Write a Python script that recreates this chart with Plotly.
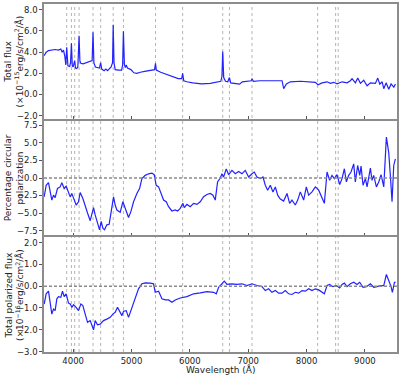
import plotly.graph_objects as go
from plotly.subplots import make_subplots

# spectral lines marked with dotted verticals (Angstrom)
line_wl = [3889, 3970, 4026, 4101, 4340, 4471, 4686, 4861, 5411, 5876,
           6563, 6678, 7065, 8190, 8498, 8542]

# total flux (x1e-15 erg/s/cm2/A)
flux_wl = [3503, 3537, 3577, 3634, 3691, 3748, 3788, 3811, 3834, 3857, 3874,
           3889, 3910, 3940, 3955, 3970, 3985, 4000, 4015, 4026, 4040, 4060,
           4080, 4101, 4115, 4130, 4170, 4200, 4250, 4300, 4325, 4340, 4355,
           4380, 4420, 4450, 4471, 4490, 4530, 4560, 4590, 4620, 4650, 4675,
           4686, 4700, 4720, 4780, 4830, 4848, 4861, 4878, 4895, 4910, 4930,
           4990, 5040, 5093, 5150, 5250, 5350, 5395, 5411, 5425, 5500, 5600,
           5700, 5800, 5860, 5876, 5895, 5950, 6050, 6200, 6350, 6450, 6530,
           6550, 6563, 6580, 6610, 6650, 6678, 6700, 6800, 6850, 6900, 7000,
           7050, 7065, 7090, 7200, 7300, 7400, 7500, 7580, 7608, 7654, 7723,
           7894, 8066, 8151, 8197, 8266, 8351, 8409, 8466, 8523, 8609, 8694,
           8751, 8780, 8837, 8877, 8923, 8980, 9037, 9094, 9180, 9220, 9255,
           9295, 9323, 9363, 9409, 9449, 9495, 9523]
flux = [3.67, 4.0, 4.15, 4.2, 4.25, 4.2, 4.3, 4.0, 4.2, 3.6, 2.8,
        4.45, 2.7, 2.65, 3.0, 4.85, 2.7, 2.6, 2.9, 3.2, 2.5, 2.45,
        2.6, 5.56, 3.2, 2.95, 2.9, 2.95, 3.0, 3.1, 3.2, 5.88, 3.0,
        2.6, 2.5, 2.5, 3.0, 2.4, 2.25, 2.4, 2.25, 2.4, 2.6, 3.0,
        6.6, 3.0, 2.35, 2.3, 2.3, 2.8, 5.97, 2.8, 2.55, 2.8, 2.5,
        2.35, 2.05, 2.0, 2.1, 2.2, 2.28, 2.35, 2.94, 2.3, 2.1, 1.9,
        1.7, 1.5, 1.5, 2.0, 1.3, 1.2, 1.1, 1.0, 1.05, 1.15, 1.25,
        1.7, 4.05, 1.6, 1.25, 1.2, 1.6, 1.1, 1.05, 0.98, 1.2, 1.25,
        1.3, 1.46, 1.25, 1.3, 1.32, 1.3, 1.3, 1.3, 0.55, 1.0, 1.2,
        1.25, 1.2, 1.15, 0.92, 1.1, 1.2, 1.05, 1.15, 1.0, 1.2, 1.1,
        1.3, 1.5, 1.1, 1.55, 1.05, 1.35, 0.83, 1.1, 1.05, 1.55, 0.98,
        1.2, 0.55, 1.1, 0.5, 1.0, 0.7, 1.0]

# percentage circular polarization
pol_wl = [3503, 3537, 3577, 3606, 3634, 3663, 3691, 3731, 3777, 3806, 3846,
          3880, 3920, 3949, 3977, 4006, 4051, 4091, 4120, 4166, 4206, 4246,
          4292, 4320, 4349, 4377, 4417, 4452, 4480, 4509, 4537, 4577, 4617,
          4646, 4692, 4720, 4749, 4806, 4852, 4892, 4949, 4989, 5035, 5092,
          5138, 5178, 5235, 5292, 5349, 5389, 5423, 5464, 5504, 5549, 5595,
          5635, 5692, 5749, 5789, 5835, 5881, 5904, 5949, 6007, 6064, 6121,
          6178, 6235, 6293, 6350, 6395, 6435, 6475, 6521, 6550, 6578, 6624,
          6664, 6721, 6778, 6836, 6893, 6950, 7007, 7064, 7104, 7150, 7207,
          7253, 7293, 7333, 7379, 7424, 7465, 7505, 7550, 7607, 7665, 7710,
          7750, 7807, 7848, 7893, 7950, 7996, 8036, 8093, 8151, 8208, 8248,
          8305, 8351, 8396, 8436, 8476, 8522, 8568, 8608, 8648, 8682, 8722,
          8762, 8808, 8836, 8876, 8911, 8934, 8968, 9008, 9037, 9094, 9122,
          9151, 9197, 9237, 9277, 9323, 9368, 9408, 9436, 9465, 9494, 9523]
pol = [-2.68, -1.04, -0.66, -2.2, -3.15, -2.45, -2.8, -1.5, -1.27, -0.66, -1.5,
       -1.18, -2.0, -2.7, -2.2, -2.9, -3.86, -3.39, -2.07, -2.92, -4.1, -5.0,
       -6.1, -5.0, -4.24, -5.27, -6.45, -7.4, -6.21, -7.16, -7.4, -6.69, -6.6,
       -5.27, -2.7, -3.86, -4.57, -4.9, -3.39, -4.33, -5.65, -4.8, -3.39, -2.2,
       -1.51, -0.09, 0.38, 0.6, 0.7, 0.47, -1.04, -1.27, -2.2, -3.15, -3.39,
       -4.1, -4.71, -4.57, -4.71, -4.33, -3.62, -4.24, -3.77, -4.1, -3.62, -3.77,
       -3.39, -2.68, -2.35, -2.2, -2.45, -3.15, -0.56, 0.0, 0.61, 0.14, 1.3,
       0.47, 1.08, 0.61, 0.94, 0.61, 1.08, 0.14, 0.61, 0.85, 0.14, -0.09,
       0.14, -1.04, -1.74, -1.04, -2.0, -1.27, -2.45, -3.01, -3.29, -2.21, -3.62,
       -3.15, -3.86, -3.15, -1.98, -3.15, -1.27, -2.45, -1.98, -1.27, -1.74, -2.45,
       -3.62, 0.85, -0.33, 0.38, -0.09, 0.47, -0.94, -0.09, 1.32, -0.56, 0.38,
       0.85, 2.02, -0.56, 1.79, 0.38, 1.7, -1.04, -0.09, -1.27, 1.41, -0.33,
       0.38, -1.27, -0.56, 0.47, -1.27, 5.84, 3.67, 0.38, -3.39, 1.79, 2.73]

# total polarized flux (x1e-16 erg/s/cm2/A)
pflux_wl = [3503, 3537, 3577, 3606, 3634, 3663, 3691, 3720, 3748, 3788, 3817,
            3846, 3880, 3920, 3949, 3977, 4006, 4051, 4091, 4132, 4166, 4206,
            4246, 4292, 4320, 4349, 4377, 4417, 4463, 4520, 4577, 4635, 4680,
            4720, 4760, 4795, 4835, 4863, 4909, 4949, 5006, 5063, 5120, 5178,
            5235, 5321, 5378, 5406, 5464, 5521, 5578, 5635, 5692, 5749, 5835,
            5949, 6064, 6178, 6293, 6407, 6453, 6493, 6550, 6590, 6636, 6721,
            6807, 6893, 6978, 7064, 7150, 7236, 7293, 7350, 7407, 7465, 7522,
            7579, 7636, 7693, 7750, 7807, 7865, 7922, 7979, 8036, 8093, 8151,
            8208, 8265, 8305, 8351, 8396, 8453, 8511, 8568, 8608, 8648, 8694,
            8751, 8808, 8865, 8911, 8968, 9025, 9094, 9151, 9208, 9265, 9323,
            9368, 9408, 9448, 9471, 9506, 9529]
pflux = [-0.82, -0.35, -0.23, -0.74, -1.28, -1.05, -1.12, -0.58, -0.48, -0.51, -0.23,
         -0.48, -0.35, -0.78, -0.82, -0.97, -0.85, -0.97, -1.12, -0.82, -0.89, -1.28,
         -1.66, -1.58, -1.82, -2.0, -1.58, -1.77, -1.74, -1.58, -1.51, -1.43, -1.28,
         -1.2, -0.97, -1.12, -1.35, -1.15, -1.12, -1.43, -0.97, -0.51, -0.12, 0.11,
         0.15, 0.14, 0.11, -0.28, -0.23, -0.58, -0.63, -0.63, -0.74, -0.63, -0.54,
         -0.48, -0.35, -0.31, -0.25, -0.28, -0.35, -0.05, 0.11, 0.23, 0.08, 0.11,
         0.08, 0.11, 0.03, 0.11, 0.03, -0.02, -0.2, -0.12, -0.28, -0.2, -0.32,
         -0.32, -0.2, -0.35, -0.38, -0.28, -0.32, -0.2, -0.23, -0.12, -0.2, -0.12,
         -0.17, -0.28, -0.35, 0.03, 0.08, -0.02, 0.03, -0.08, 0.08, 0.14, -0.02,
         0.11, 0.18, 0.08, 0.18, -0.05, -0.02, 0.11, -0.05, -0.02, 0.03, 0.03,
         0.54, 0.26, -0.02, -0.28, 0.18, 0.18]

x_ticks = [4000, 5000, 6000, 7000, 8000, 9000]
spine = "#8c8c8c"
txt = "#222222"
font = "DejaVu Sans"
blue = "#2222ff"

fig = make_subplots(rows=3, cols=1, shared_xaxes=True, vertical_spacing=0.005)

fig.add_trace(go.Scatter(x=flux_wl, y=flux, mode="lines",
                         line=dict(color=blue, width=1.2)), row=1, col=1)
fig.add_trace(go.Scatter(x=pol_wl, y=pol, mode="lines",
                         line=dict(color=blue, width=1.2)), row=2, col=1)
fig.add_trace(go.Scatter(x=pflux_wl, y=pflux, mode="lines",
                         line=dict(color=blue, width=1.2)), row=3, col=1)

# dotted line markers across all panels
for wl in line_wl:
    fig.add_shape(type="line", xref="x", yref="paper", x0=wl, x1=wl, y0=0, y1=1,
                  line=dict(color="#b4b4b4", width=1, dash="dot"), layer="below")

# dashed zero lines
for r in (2, 3):
    fig.add_hline(y=0, row=r, col=1,
                  line=dict(color="#8a8a8a", width=1.5, dash="3px,2px"))

for r in (1, 2, 3):
    fig.update_xaxes(range=[3500, 9550], tickvals=x_ticks, showgrid=False,
                     zeroline=False, showline=True, mirror=True,
                     linecolor=spine, linewidth=1.5, ticks="inside",
                     ticklen=3, tickcolor="#555555",
                     tickfont=dict(family=font, size=8.5, color=txt),
                     row=r, col=1)

fig.update_yaxes(range=[-2.3, 8.55], tickvals=[-2, 0, 2, 4, 6, 8],
                 tickformat=".1f", row=1, col=1)
fig.update_yaxes(range=[-8.2, 8.2], tickvals=[-7.5, -5, -2.5, 0, 2.5, 5, 7.5],
                 tickformat=".1f", row=2, col=1)
fig.update_yaxes(range=[-3.02, 2.25], tickvals=[-3, -2, -1, 0, 1, 2],
                 tickformat=".1f", row=3, col=1)
fig.update_yaxes(showgrid=False, zeroline=False, showline=True, mirror=True,
                 linecolor=spine, linewidth=1.5, ticks="outside", ticklen=3,
                 tickcolor="#555555",
                 tickfont=dict(family=font, size=8.5, color=txt))

ytitles = [
    ("Total flux<br>(×10<sup>−15</sup>erg/s/cm<sup>2</sup>/Å)", 0.836),
    ("Percentage circular<br>polarization", 0.50),
    ("Total polarized flux<br>(×10<sup>−16</sup>erg/s/cm<sup>2</sup>/Å)", 0.165),
]
for text, yc in ytitles:
    fig.add_annotation(text=text, xref="paper", yref="paper", x=-0.084, y=yc,
                       xanchor="center", yanchor="middle", textangle=-90,
                       showarrow=False,
                       font=dict(family=font, size=9, color=txt))

fig.add_annotation(text="Wavelength (Å)", xref="paper", yref="paper",
                   x=0.5, y=-0.05, xanchor="center", yanchor="middle",
                   showarrow=False, font=dict(family=font, size=9, color=txt))

fig.update_layout(
    width=399, height=378,
    margin=dict(l=44, r=2, t=4, b=26, autoexpand=False),
    plot_bgcolor="white", paper_bgcolor="white",
    showlegend=False,
)

fig.write_html("out.html", config={"displayModeBar": False},
               post_script="document.body.style.margin='0';")
